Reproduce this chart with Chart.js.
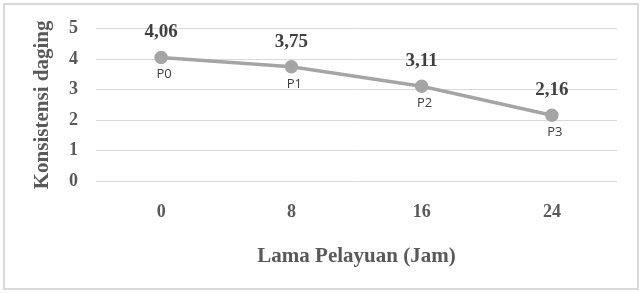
<!DOCTYPE html>
<html lang="id">
<head>
<meta charset="UTF-8">
<title>Konsistensi daging</title>
<script src="https://cdn.jsdelivr.net/npm/chart.js@4/dist/chart.umd.min.js"></script>
<style>
  html, body { margin: 0; padding: 0; background: #fff; }
  #wrap { position: relative; width: 643px; height: 293px; }
  #frame { position: absolute; left: 3px; top: 3px; width: 632px; height: 283px; border: 2px solid #d9d9d9; }
</style>
</head>
<body>
<div id="wrap">
  <canvas id="myChart" width="643" height="293"></canvas>
  <div id="frame"></div>
</div>
<script>
// data
const jam = ['0', '8', '16', '24'];
const konsistensi = [4.06, 3.75, 3.11, 2.16];
const perlakuan = ['P0', 'P1', 'P2', 'P3'];
const yTicks = [0, 1, 2, 3, 4, 5];

const serif = "'Liberation Serif', 'Times New Roman', serif";
const grey = '#595959';

// value above the point, treatment name below it
const pointLabels = {
  id: 'pointLabels',
  afterDatasetsDraw(chart) {
    const ctx = chart.ctx;
    const meta = chart.getDatasetMeta(0);
    ctx.save();
    ctx.textAlign = 'center';
    ctx.textBaseline = 'middle';
    meta.data.forEach((pt, i) => {
      ctx.fillStyle = '#404040';
      ctx.font = "bold 19px " + serif;
      ctx.fillText(konsistensi[i].toFixed(2).replace('.', ','), pt.x, pt.y - 25);
      ctx.font = "13px 'Open Sans', 'Noto Sans', sans-serif";
      ctx.fillText(perlakuan[i], pt.x + 3, pt.y + 17);
    });
    ctx.restore();
  }
};

const ctx = document.getElementById('myChart').getContext('2d');
new Chart(ctx, {
  type: 'line',
  data: {
    labels: jam,
    datasets: [{
      data: konsistensi,
      borderColor: '#a5a5a5',
      backgroundColor: '#a5a5a5',
      borderWidth: 3.5,
      pointRadius: 5,
      pointHoverRadius: 5,
      fill: false,
      tension: 0
    }]
  },
  options: {
    responsive: false,
    animation: false,
    layout: { padding: { top: 25, right: 26, bottom: 0, left: 0 } },
    plugins: { legend: { display: false }, tooltip: { enabled: false } },
    scales: {
      x: {
        offset: true,
        grid: { display: false, drawTicks: false },
        border: { display: false },
        ticks: { color: grey, padding: 21, font: { family: serif, size: 18, weight: 'bold' } },
        title: {
          display: true,
          text: 'Lama Pelayuan (Jam)',
          color: grey,
          font: { family: serif, size: 21, weight: 'bold' },
          padding: { top: 0, bottom: 24 }
        },
        afterFit(scale) { scale.height = 112; }
      },
      y: {
        min: 0,
        max: 5,
        afterBuildTicks(scale) { scale.ticks = yTicks.map(v => ({ value: v })); },
        grid: { color: '#d9d9d9', lineWidth: 1, drawTicks: false },
        border: { display: false },
        ticks: { color: grey, padding: 18, font: { family: serif, size: 18, weight: 'bold' } },
        title: {
          display: true,
          text: 'Konsistensi daging',
          color: grey,
          font: { family: serif, size: 21, weight: 'bold' },
          padding: { top: 30, bottom: 0 }
        },
        afterFit(scale) { scale.width = 96; }
      }
    }
  },
  plugins: [pointLabels]
});
</script>
</body>
</html>
